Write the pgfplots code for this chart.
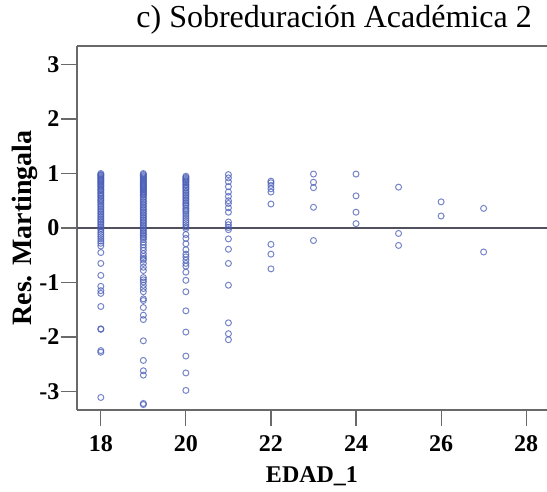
\documentclass[border=0pt]{standalone}
\usepackage{pgfplots}
\pgfplotsset{compat=1.18}
\usepackage{pgfplotstable}
\usepackage{fontspec}
\setmainfont{Liberation Serif}
\definecolor{mk}{RGB}{72,92,182}
\definecolor{axc}{RGB}{105,105,105}
\definecolor{zl}{RGB}{80,80,95}
\pgfplotstableread{
x y
18 1.00
18 0.98
18 0.97
18 0.95
18 0.93
18 0.91
18 0.89
18 0.87
18 0.85
18 0.83
18 0.81
18 0.79
18 0.77
18 0.75
18 0.72
18 0.70
18 0.68
18 0.65
18 0.63
18 0.60
18 0.58
18 0.55
18 0.52
18 0.50
18 0.47
18 0.44
18 0.41
18 0.38
18 0.35
18 0.32
18 0.29
18 0.26
18 0.23
18 0.20
18 0.17
18 0.14
18 0.11
18 0.08
18 0.05
18 0.02
18 -0.01
18 -0.04
18 -0.08
18 -0.12
18 -0.16
18 -0.20
18 -0.24
18 -0.28
18 -0.33
18 -0.45
18 -0.65
18 -0.87
18 -1.07
18 -1.15
18 -1.20
18 -1.44
18 -1.85
18 -1.86
18 -2.25
18 -2.28
18 -3.11
19 1.00
19 0.98
19 0.96
19 0.94
19 0.92
19 0.90
19 0.88
19 0.86
19 0.84
19 0.82
19 0.80
19 0.78
19 0.76
19 0.74
19 0.72
19 0.70
19 0.68
19 0.66
19 0.64
19 0.62
19 0.60
19 0.57
19 0.54
19 0.51
19 0.48
19 0.45
19 0.42
19 0.39
19 0.36
19 0.33
19 0.30
19 0.27
19 0.24
19 0.21
19 0.18
19 0.15
19 0.12
19 0.09
19 0.06
19 0.03
19 0.00
19 -0.03
19 -0.06
19 -0.09
19 -0.12
19 -0.15
19 -0.18
19 -0.21
19 -0.26
19 -0.31
19 -0.36
19 -0.41
19 -0.47
19 -0.52
19 -0.56
19 -0.59
19 -0.65
19 -0.72
19 -0.78
19 -0.91
19 -0.95
19 -0.99
19 -1.05
19 -1.11
19 -1.17
19 -1.30
19 -1.33
19 -1.46
19 -1.60
19 -1.68
19 -2.07
19 -2.43
19 -2.62
19 -2.70
19 -3.22
19 -3.24
20 0.95
20 0.93
20 0.91
20 0.89
20 0.87
20 0.85
20 0.83
20 0.80
20 0.78
20 0.75
20 0.73
20 0.70
20 0.67
20 0.64
20 0.61
20 0.58
20 0.55
20 0.52
20 0.49
20 0.46
20 0.43
20 0.40
20 0.36
20 0.33
20 0.30
20 0.26
20 0.22
20 0.18
20 0.14
20 0.10
20 0.06
20 0.02
20 -0.01
20 -0.12
20 -0.19
20 -0.29
20 -0.40
20 -0.48
20 -0.53
20 -0.59
20 -0.65
20 -0.70
20 -0.81
20 -0.96
20 -1.17
20 -1.52
20 -1.91
20 -2.35
20 -2.66
20 -2.98
21 0.98
21 0.92
21 0.85
21 0.76
21 0.66
21 0.58
21 0.50
21 0.45
21 0.37
21 0.29
21 0.11
21 0.06
21 0.01
21 -0.03
21 -0.20
21 -0.39
21 -0.65
21 -1.05
21 -1.74
21 -1.94
21 -2.05
22 0.86
22 0.83
22 0.78
22 0.72
22 0.66
22 0.44
22 -0.30
22 -0.48
22 -0.75
23 0.99
23 0.84
23 0.74
23 0.38
23 -0.23
24 0.99
24 0.59
24 0.29
24 0.08
25 0.75
25 -0.10
25 -0.32
26 0.48
26 0.22
27 0.36
27 -0.44
}\resid
\begin{document}
\begin{tikzpicture}
\useasboundingbox (0,0) rectangle (547pt,491pt);
\begin{axis}[
  at={(77pt,81pt)}, anchor=south west,
  width=470pt, height=364pt, scale only axis,
  xmin=17.44, xmax=28.49, ymin=-3.34, ymax=3.34,
  axis x line*=bottom, axis y line*=left,
  axis line style={draw=axc, line width=1.1pt},
  tick align=outside, major tick length=16pt,
  tick style={draw=axc, line width=1.1pt},
  xtick={18,20,22,24,26,28}, xticklabels={18,20,22,24,26,28},
  ytick={-3,-2,-1,0,1,2,3}, yticklabels={-3,-2,-1,0,1,2,3},
  ticklabel style={font=\fontsize{24}{24}\selectfont\bfseries},
  xticklabel style={yshift=-6pt},
  yticklabel style={xshift=2pt},
  xlabel={EDAD\_1}, ylabel={Res. Martingala},
  xlabel style={font=\fontsize{24}{24}\selectfont\bfseries, yshift=-8pt},
  ylabel style={font=\fontsize{28}{28}\selectfont\bfseries, yshift=-5pt},
  title={c) Sobreduración Académica 2},
  title style={font=\fontsize{32}{32}\selectfont, at={(axis description cs:0.547,1)}, anchor=base, yshift=13pt},
  clip=false,
]
\draw[axc, line width=1.1pt] (rel axis cs:0,1) -- (rel axis cs:1,1);
\addplot[only marks, mark=o, mark size=3pt, draw=mk, draw opacity=0.75, mark options={line width=1pt}] table[x=x,y=y] {\resid};
\addplot[zl, line width=1.4pt] coordinates {(17.44,0) (28.49,0)};
\end{axis}
\end{tikzpicture}
\end{document}
